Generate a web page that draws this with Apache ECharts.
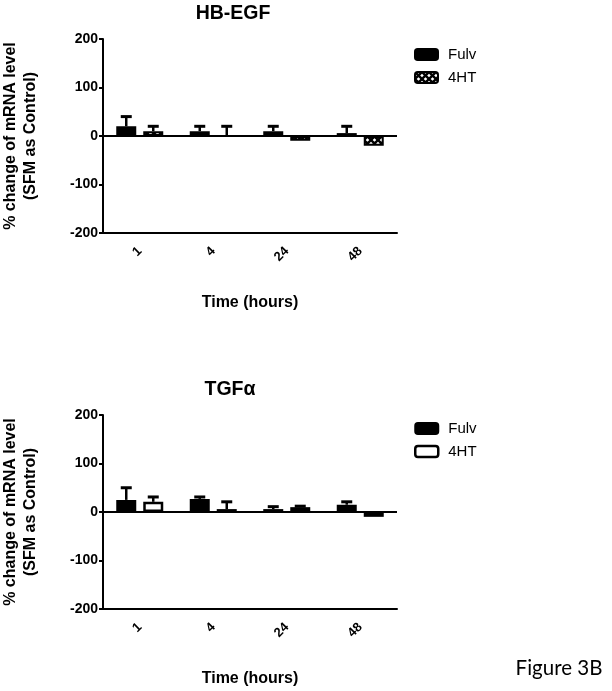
<!DOCTYPE html>
<html><head><meta charset="utf-8">
<script src="https://cdn.jsdelivr.net/npm/echarts@6/dist/echarts.min.js"></script>
<style>html,body{margin:0;padding:0;background:#fff}#c{width:612px;height:691px}</style>
</head><body><div id="c"></div>
<script>
// ---- data ----
const categories = ['1', '4', '24', '48'];
const seriesNames = ['Fulv', '4HT'];
const yTicks = [-200, -100, 0, 100, 200];
// HB-EGF (% change, SFM as control)
const hbFulv = [20, 10, 10, 6];
const hbFulvErr = [20, 10, 10, 14];
const hb4HT = [10, 0, -10, -20];
const hb4HTErr = [10, 20, 0, 0];
// TGFalpha
const tgFulv = [25, 27, 6, 15];
const tgFulvErr = [25, 4, 5, 6];
const tg4HT = [21, 6, 10, -10];
const tg4HTErr = [10, 15, 2, 0];

// ---- styles ----
const FONT = '"Liberation Sans", Arial, sans-serif';
function makeHatch() {
  const c = document.createElement('canvas');
  c.width = 7; c.height = 7;
  const g = c.getContext('2d');
  g.fillStyle = '#fff'; g.fillRect(0, 0, 7, 7);
  g.strokeStyle = '#000'; g.lineWidth = 2.4;
  g.beginPath();
  g.moveTo(-1, -1); g.lineTo(8, 8);
  g.moveTo(8, -1); g.lineTo(-1, 8);
  g.stroke();
  return c;
}
const hatch = { image: makeHatch(), repeat: 'repeat' };

const BAR_W = 20, BAR_GAP_PX = 7;
const OFFSET = (BAR_W + BAR_GAP_PX) / 2;

function errSeries(vals, errs, side, gi) {
  return {
    type: 'custom', name: 'err' + gi + side, xAxisIndex: gi, yAxisIndex: gi, z: 5, silent: true,
    data: vals.map((v, i) => [i, v, errs[i]]),
    renderItem: function (params, api) {
      const v = api.value(1), e = api.value(2);
      if (!e) return null;
      const dir = v < 0 ? -1 : 1;
      const p0 = api.coord([api.value(0), v]);
      const p1 = api.coord([api.value(0), v + dir * e]);
      const x = p0[0] + side * OFFSET;
      return {
        type: 'group', children: [
          { type: 'line', shape: { x1: x, y1: p0[1], x2: x, y2: p1[1] }, style: { stroke: '#000', lineWidth: 2.5 } },
          { type: 'line', shape: { x1: x - 5.5, y1: p1[1], x2: x + 5.5, y2: p1[1] }, style: { stroke: '#000', lineWidth: 3 } }
        ]
      };
    }
  };
}

const grids = [
  { left: 102, right: 215, top: 39, height: 194 },
  { left: 102, right: 215, top: 415, height: 194 }
];

function xAx(gi) {
  return {
    type: 'category', gridIndex: gi, data: categories,
    name: 'Time (hours)', nameLocation: 'middle', nameGap: 62,
    nameTextStyle: { fontFamily: FONT, fontWeight: 'bold', fontSize: 16, color: '#000' },
    axisLine: { onZero: false, lineStyle: { color: '#000', width: 2 } },
    axisTick: { alignWithLabel: true, length: 5, lineStyle: { color: '#000', width: 2 } },
    axisLabel: { rotate: 45, margin: 16, fontFamily: FONT, fontWeight: 'bold', fontSize: 13, color: '#000' },
    splitLine: { show: false }
  };
}
function yAx(gi) {
  return {
    type: 'value', gridIndex: gi, min: yTicks[0], max: yTicks[yTicks.length - 1], interval: 100,
    name: '% change of mRNA level\n(SFM as Control)', nameLocation: 'middle', nameGap: 62,
    nameTextStyle: { fontFamily: FONT, fontWeight: 'bold', fontSize: 16, color: '#000', lineHeight: 20 },
    axisLine: { show: true, lineStyle: { color: '#000', width: 2 } },
    axisTick: { show: true, length: 4, lineStyle: { color: '#000', width: 2 } },
    axisLabel: { margin: 5, fontFamily: FONT, fontWeight: 'bold', fontSize: 14, color: '#000' },
    splitLine: { show: false }
  };
}

function barSeries(name, vals, gi, style, withZero) {
  const s = {
    type: 'bar', name: name, xAxisIndex: gi, yAxisIndex: gi, data: vals,
    barWidth: BAR_W, barGap: (BAR_GAP_PX / BAR_W * 100) + '%',
    itemStyle: style
  };
  if (withZero) {
    s.markLine = {
      silent: true, symbol: 'none', label: { show: false },
      lineStyle: { color: '#000', width: 2, type: 'solid' },
      data: [{ yAxis: 0 }]
    };
  }
  return s;
}

const fulvStyle = { color: '#000', borderColor: '#000', borderWidth: 2 };
const hb4Style = { color: hatch, borderColor: '#000', borderWidth: 2 };
const tg4Style = { color: '#fff', borderColor: '#000', borderWidth: 2.5 };

function legend(top, item2Style) {
  return {
    orient: 'vertical', left: 414, top: top, itemWidth: 23, itemHeight: 11, itemGap: 8, padding: 0,
    icon: 'roundRect',
    textStyle: { fontFamily: FONT, fontSize: 15, color: '#000', padding: [0, 0, 0, 5] },
    data: [{ name: seriesNames[0], itemStyle: fulvStyle }, { name: seriesNames[1], itemStyle: item2Style }]
  };
}

const chart = echarts.init(document.getElementById('c'), null, { renderer: 'canvas' });
chart.setOption({
  animation: false,
  backgroundColor: '#fff',
  grid: grids,
  xAxis: [xAx(0), xAx(1)],
  yAxis: [yAx(0), yAx(1)],
  legend: [legend(47, hb4Style), legend(421, tg4Style)],
  graphic: [
    { type: 'text', x: 233, y: 14, style: { text: 'HB-EGF', font: 'bold 19.5px ' + FONT, fill: '#000', textAlign: 'center', textVerticalAlign: 'middle' } },
    { type: 'text', x: 230, y: 390, style: { text: 'TGFα', font: 'bold 19.5px ' + FONT, fill: '#000', textAlign: 'center', textVerticalAlign: 'middle' } },
    { type: 'text', x: 559, y: 668, style: { text: 'Figure 3B', font: '20.5px Lato, "Open Sans", sans-serif', fill: '#000', textAlign: 'center', textVerticalAlign: 'middle' } }
  ],
  series: [
    barSeries(seriesNames[0], hbFulv, 0, fulvStyle, true),
    barSeries(seriesNames[1], hb4HT, 0, hb4Style, false),
    errSeries(hbFulv, hbFulvErr, -1, 0),
    errSeries(hb4HT, hb4HTErr, 1, 0),
    barSeries(seriesNames[0], tgFulv, 1, fulvStyle, true),
    barSeries(seriesNames[1], tg4HT, 1, tg4Style, false),
    errSeries(tgFulv, tgFulvErr, -1, 1),
    errSeries(tg4HT, tg4HTErr, 1, 1)
  ]
});
</script>
</body></html>
